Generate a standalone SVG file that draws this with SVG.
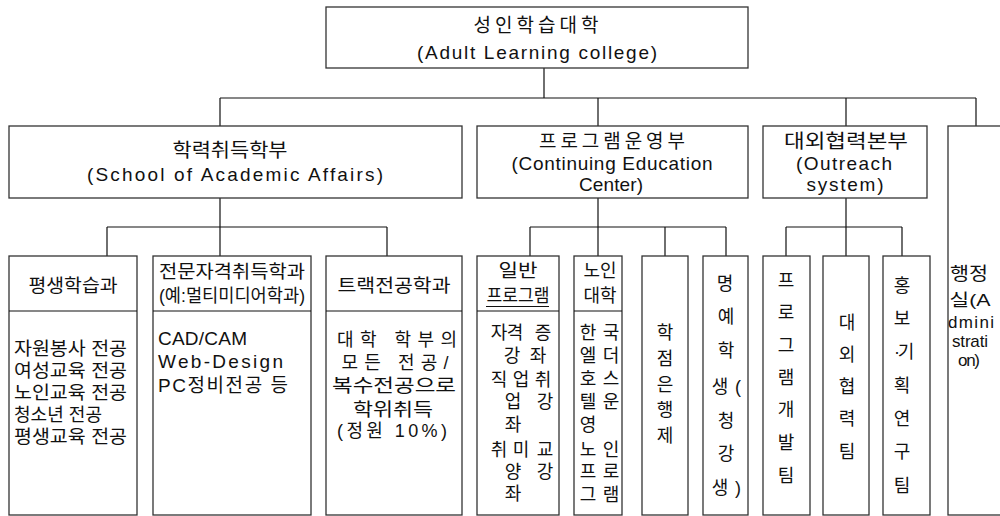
<svg xmlns="http://www.w3.org/2000/svg" width="1000" height="516" viewBox="0 0 1000 516">
<style>
.box{fill:#fff;stroke:#333;stroke-width:1.3}
.ln{stroke:#111;stroke-width:1.2;fill:none}
text{font-family:"Liberation Sans","Noto Sans CJK KR",sans-serif;fill:#111}
.t19{font-size:19px}
.t18{font-size:18px}
.t17{font-size:17px}
.m{text-anchor:middle}
</style>
<rect width="1000" height="516" fill="#fff"/>
<g id="connectors">
<path class="ln" d="M544 68V98M220 98H976M220 98V126M598 98V126M846 98V126M976 98V126M220 198V256M107 227H387M107 227V256M387 227V256M598 198V256M530 227H726M530 227V256M665 227V256M726 227V256M846 198V256M786 227H902M786 227V256M902 227V256"/>
</g>
<g id="n-college">
<rect class="box" x="326" y="7" width="422" height="61"/>
<text class="t19 m" x="536" y="32" textLength="125" lengthAdjust="spacing">성인학습대학</text>
<text class="t19 m" x="537" y="59" textLength="240" lengthAdjust="spacing">(Adult Learning college)</text>
</g>
<g id="n-academic">
<rect class="box" x="9" y="126" width="453" height="72"/>
<text class="t19 m" x="230" y="157" textLength="115" lengthAdjust="spacingAndGlyphs">학력취득학부</text>
<text class="t19 m" x="235" y="181" textLength="296" lengthAdjust="spacing">(School of Academic Affairs)</text>
</g>
<g id="n-program">
<rect class="box" x="477" y="126" width="271" height="72"/>
<text class="t19 m" x="612" y="148" textLength="146" lengthAdjust="spacing">프로그램운영부</text>
<text class="t19 m" x="612" y="170" textLength="201" lengthAdjust="spacing">(Continuing Education</text>
<text class="t19 m" x="611" y="191" textLength="64" lengthAdjust="spacing">Center)</text>
</g>
<g id="n-outreach">
<rect class="box" x="763" y="126" width="164" height="72"/>
<text class="t19 m" x="846" y="148" textLength="124" lengthAdjust="spacingAndGlyphs">대외협력본부</text>
<text class="t19 m" x="844" y="170" textLength="96" lengthAdjust="spacing">(Outreach</text>
<text class="t19 m" x="845" y="191" textLength="77" lengthAdjust="spacing">system)</text>
</g>
<g id="n-admin">
<rect class="box" x="948" y="126" width="60" height="389"/>
<text class="t18 m" x="969" y="280" textLength="38" lengthAdjust="spacingAndGlyphs">행정</text>
<text class="t17 m" x="970" y="306" textLength="41" lengthAdjust="spacingAndGlyphs">실(A</text>
<text class="t17 m" x="971" y="328" textLength="46" lengthAdjust="spacing">dmini</text>
<text class="t17 m" x="970" y="347" textLength="36" lengthAdjust="spacing">strati</text>
<text class="t17 m" x="969" y="366" textLength="22" lengthAdjust="spacing">on)</text>
</g>
<g id="n-lifelong">
<rect class="box" x="9" y="256" width="128" height="259"/>
<path class="ln" d="M9 311H137"/>
<text class="t18 m" x="73" y="292" textLength="89" lengthAdjust="spacingAndGlyphs">평생학습과</text>
<text class="t18" x="14" y="355" textLength="113" lengthAdjust="spacingAndGlyphs">자원봉사 전공</text>
<text class="t18" x="14" y="377" textLength="113" lengthAdjust="spacingAndGlyphs">여성교육 전공</text>
<text class="t18" x="14" y="399" textLength="113" lengthAdjust="spacingAndGlyphs">노인교육 전공</text>
<text class="t18" x="14" y="421" textLength="88" lengthAdjust="spacingAndGlyphs">청소년 전공</text>
<text class="t18" x="14" y="443" textLength="113" lengthAdjust="spacingAndGlyphs">평생교육 전공</text>
</g>
<g id="n-license">
<rect class="box" x="153" y="256" width="158" height="259"/>
<path class="ln" d="M153 311H311"/>
<text class="t18 m" x="232" y="278" textLength="146" lengthAdjust="spacingAndGlyphs">전문자격취득학과</text>
<text class="t18 m" x="232" y="302" textLength="146" lengthAdjust="spacingAndGlyphs">(예:멀티미디어학과)</text>
<text class="t19" x="158" y="345" textLength="89" lengthAdjust="spacing">CAD/CAM</text>
<text class="t19" x="158" y="368" textLength="125" lengthAdjust="spacing">Web-Design</text>
<text class="t19" x="158" y="392" textLength="130" lengthAdjust="spacing">PC정비전공 등</text>
</g>
<g id="n-track">
<rect class="box" x="326" y="256" width="136" height="259"/>
<path class="ln" d="M326 311H462"/>
<text class="t18 m" x="394" y="292" textLength="113" lengthAdjust="spacingAndGlyphs">트랙전공학과</text>
<text class="t18 m" x="397" y="346" textLength="120" lengthAdjust="spacing">대학 학부의</text>
<text class="t18 m" x="395" y="369" textLength="107" lengthAdjust="spacing">모든 전공/</text>
<text class="t18 m" x="394" y="392" textLength="124" lengthAdjust="spacingAndGlyphs">복수전공으로</text>
<text class="t18 m" x="393" y="416" textLength="80" lengthAdjust="spacingAndGlyphs">학위취득</text>
<text class="t18 m" x="392" y="437" textLength="110" lengthAdjust="spacing">(정원 10%)</text>
</g>
<g id="n-general">
<rect class="box" x="477" y="256" width="82" height="259"/>
<path class="ln" d="M477 311H559"/>
<text class="t18 m" x="518" y="277" textLength="39" lengthAdjust="spacingAndGlyphs">일반</text>
<text class="t18 m" x="518" y="302" textLength="63" lengthAdjust="spacingAndGlyphs">프로그램</text>
<path class="ln" d="M486 306.5H549" style="stroke-width:1"/>
<text class="t18 m" x="499 515 543" y="339">자격증</text>
<text class="t18 m" x="512 538" y="362">강좌</text>
<text class="t18 m" x="499 521 543" y="386">직업취</text>
<text class="t18 m" x="513 545" y="408">업강</text>
<text class="t18 m" x="513" y="431">좌</text>
<text class="t18 m" x="499 521 545" y="456">취미교</text>
<text class="t18 m" x="513 545" y="478">양강</text>
<text class="t18 m" x="513" y="500">좌</text>
</g>
<g id="n-senior">
<rect class="box" x="574" y="256" width="48" height="259"/>
<path class="ln" d="M574 311H622"/>
<text class="t18 m" x="600" y="277" textLength="33" lengthAdjust="spacingAndGlyphs">노인</text>
<text class="t18 m" x="600" y="302" textLength="33" lengthAdjust="spacingAndGlyphs">대학</text>
<text class="t18 m" x="588 611" y="339">한국</text>
<text class="t18 m" x="588 611" y="362">엘더</text>
<text class="t18 m" x="588 611" y="385">호스</text>
<text class="t18 m" x="588 611" y="408">텔운</text>
<text class="t18 m" x="588" y="431">영</text>
<text class="t18 m" x="588 611" y="456">노인</text>
<text class="t18 m" x="588 611" y="478">프로</text>
<text class="t18 m" x="588 611" y="501">그램</text>
</g>
<g id="n-credit">
<rect class="box" x="642" y="256" width="46" height="259"/>
<text class="t18 m" x="665" y="339">학</text>
<text class="t18 m" x="665" y="365">점</text>
<text class="t18 m" x="665" y="391">은</text>
<text class="t18 m" x="665" y="416">행</text>
<text class="t18 m" x="665" y="442">제</text>
</g>
<g id="n-honor">
<rect class="box" x="703" y="256" width="45" height="259"/>
<text class="t18 m" x="725" y="290">명</text>
<text class="t18 m" x="726" y="323">예</text>
<text class="t18 m" x="726" y="357">학</text>
<text class="t18 m" x="720 738" y="393">생(</text>
<text class="t18 m" x="726" y="427">청</text>
<text class="t18 m" x="726" y="460">강</text>
<text class="t18 m" x="720 738" y="494">생)</text>
</g>
<g id="n-progdev">
<rect class="box" x="763" y="256" width="47" height="259"/>
<text class="t18 m" x="786" y="287">프</text>
<text class="t18 m" x="786" y="319">로</text>
<text class="t18 m" x="786" y="352">그</text>
<text class="t18 m" x="786" y="384">램</text>
<text class="t18 m" x="786" y="416">개</text>
<text class="t18 m" x="786" y="449">발</text>
<text class="t18 m" x="786" y="482">팀</text>
</g>
<g id="n-coop">
<rect class="box" x="823" y="256" width="46" height="259"/>
<text class="t18 m" x="847" y="329">대</text>
<text class="t18 m" x="847" y="361">외</text>
<text class="t18 m" x="847" y="393">협</text>
<text class="t18 m" x="847" y="425">력</text>
<text class="t18 m" x="847" y="458">팀</text>
</g>
<g id="n-pr">
<rect class="box" x="883" y="256" width="47" height="259"/>
<text class="t18 m" x="902" y="292">홍</text>
<text class="t18 m" x="902" y="325">보</text>
<text class="t18 m" x="897 906" y="358">·기</text>
<text class="t18 m" x="902" y="392">획</text>
<text class="t18 m" x="902" y="425">연</text>
<text class="t18 m" x="902" y="458">구</text>
<text class="t18 m" x="902" y="492">팀</text>
</g>
</svg>
